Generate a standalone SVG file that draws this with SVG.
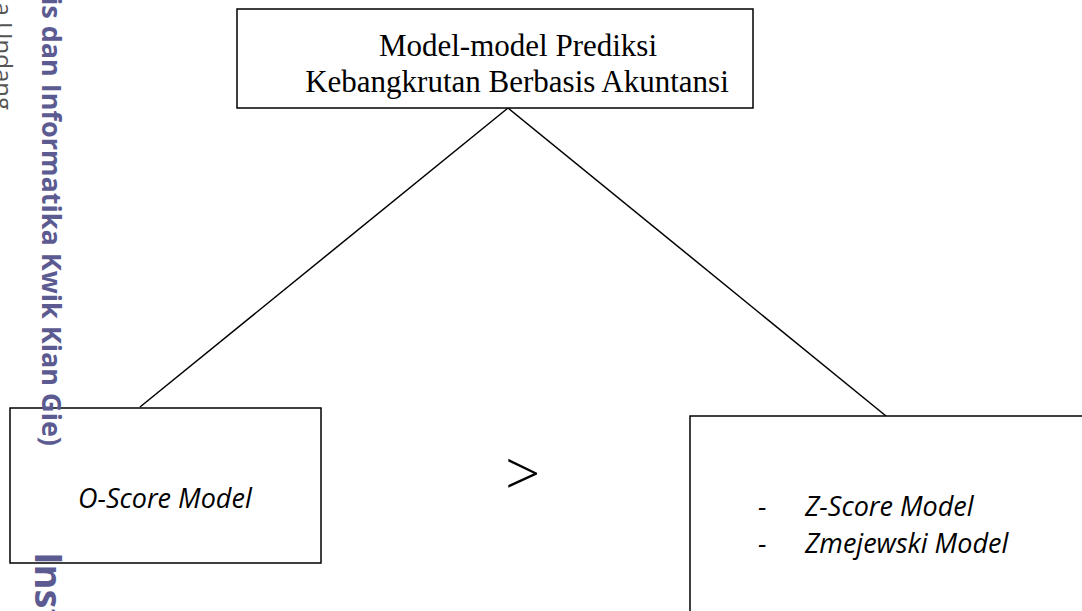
<svg xmlns="http://www.w3.org/2000/svg" width="1082" height="611" viewBox="0 0 1082 611">
<style>
.box{fill:#fff;stroke:#000;stroke-width:1.5}
.conn{stroke:#000;stroke-width:1.5;fill:none}
.serif{font-family:"Liberation Serif","Times New Roman",serif;font-size:31px;fill:#000}
.it{font-family:"Open Sans","Noto Sans",sans-serif;font-style:italic;font-size:27px;fill:#000}
.wm{font-family:"Open Sans","Noto Sans",sans-serif;font-weight:bold;fill:#5b5b91}
</style>
<rect width="1082" height="611" fill="#fff"/>
<g id="connectors">
<line class="conn" x1="508" y1="108" x2="140" y2="407"/>
<line class="conn" x1="508" y1="108" x2="886" y2="416"/>
</g>
<g id="node-top">
<rect class="box" x="237" y="9" width="516" height="99"/>
<text class="serif" x="518" y="56" text-anchor="middle">Model-model Prediksi</text>
<text class="serif" x="517" y="92" text-anchor="middle">Kebangkrutan Berbasis Akuntansi</text>
</g>
<g id="node-left">
<rect class="box" x="10" y="408" width="311" height="155"/>
<text class="it" x="78" y="508">O-Score Model</text>
</g>
<g id="node-right">
<rect class="box" x="690" y="416" width="400" height="210"/>
<text class="it" x="758" y="516">-</text>
<text class="it" x="805" y="516">Z-Score Model</text>
<text class="it" x="758" y="553">-</text>
<text class="it" x="805" y="553">Zmejewski Model</text>
</g>
<g id="symbol">
<text x="505" y="496" font-family="Open Sans, sans-serif" font-weight="300" font-size="62" fill="#000">&gt;</text>
</g>
<g id="watermark">
<text class="wm" font-size="27" transform="translate(42,446) rotate(90)" text-anchor="end">is dan Informatika Kwik Kian Gie)</text>
<text font-family="Open Sans, sans-serif" font-size="24" fill="#555" transform="translate(-5,110) rotate(90)" text-anchor="end">a Undang</text>
<text class="wm" font-size="38" transform="translate(35,552) rotate(90)">Institut</text>
</g>
</svg>
